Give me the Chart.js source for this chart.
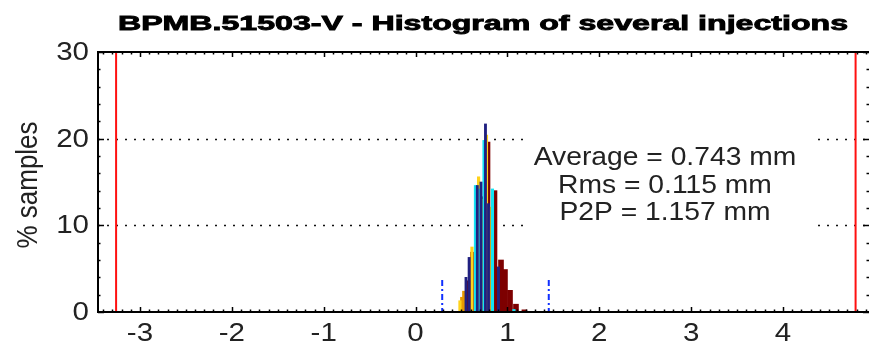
<!DOCTYPE html>
<html><head><meta charset="utf-8">
<script src="https://cdn.jsdelivr.net/npm/chart.js@4.4.0/dist/chart.umd.min.js"></script>
<style>html,body{margin:0;padding:0;background:#fff;overflow:hidden}</style>
</head><body>
<canvas id="c" width="869" height="344"></canvas>
<script>
// ---- text / ticks ----
const titleText = 'BPMB.51503-V - Histogram of several injections';
const yLabel = '% samples';
const xTicks = [-3, -2, -1, 0, 1, 2, 3, 4];
const yTicks = [0, 10, 20, 30];
const xRange = [-3.457, 4.936];
const yRange = [0, 30];
const statLines = ['Average = 0.743 mm', 'Rms = 0.115 mm', 'P2P = 1.157 mm'];
const redLimits = [-3.26, 4.79];
const minMaxMarks = [0.29, 1.45];
const minMaxMarkHeight = 3.7;

// ---- histogram series (bin centre [mm], % samples) ----
const navyX   = [0.549, 0.583, 0.672, 0.712, 0.761, 0.794, 0.902];
const navyY   = [4.0, 6.3, 14.6, 15.0, 21.7, 12.5, 5.2];
const cyanX   = [0.652, 0.700, 0.745, 0.837, 1.071];
const cyanY   = [14.6, 14.2, 19.8, 14.2, 0.3];
const yellowX = [0.483, 0.614, 0.686, 0.772];
const yellowY = [1.3, 7.5, 15.6, 20.4];
const orangeX = [0.505, 0.527, 0.728, 0.810, 0.822];
const orangeY = [1.7, 2.4, 13.0, 12.1, 11.8];
const maroonX = [0.576, 0.625, 0.674, 0.723, 0.783, 0.830, 0.859, 0.930, 0.973, 1.028, 1.093, 1.185];
const maroonY = [3.6, 6.9, 13.0, 13.3, 19.6, 11.0, 14.0, 6.0, 4.9, 2.5, 0.9, 0.25];

const pts = (xs, ys) => xs.map((v, i) => ({x: v, y: ys[i]}));

function stext(ctx, s, x, y, sx, align, stroke) {
  ctx.save(); ctx.translate(x, y); ctx.scale(sx, 1);
  ctx.textAlign = align;
  if (stroke) { ctx.lineWidth = stroke; ctx.strokeStyle = ctx.fillStyle; ctx.strokeText(s, 0, 0); }
  ctx.fillText(s, 0, 0); ctx.restore();
}

const matlabLook = {
  id: 'matlabLook',
  beforeDatasetsDraw(chart) {
    const {ctx, chartArea: a, scales: {y}} = chart;
    ctx.save();
    ctx.strokeStyle = '#111'; ctx.lineWidth = 1.5; ctx.setLineDash([2, 7]);
    yTicks.forEach(v => {
      if (v <= yRange[0] || v >= yRange[1]) return;
      const py = Math.round(y.getPixelForValue(v)) + 0.5;
      ctx.beginPath(); ctx.moveTo(a.left, py); ctx.lineTo(a.right, py); ctx.stroke();
    });
    ctx.restore();
  },
  afterDatasetsDraw(chart) {
    const {ctx, chartArea: a, scales: {x, y}} = chart;
    ctx.save();
    // red limit lines
    ctx.strokeStyle = '#ff1010'; ctx.lineWidth = 2;
    redLimits.forEach(v => {
      const px = x.getPixelForValue(v);
      ctx.beginPath(); ctx.moveTo(px, a.top); ctx.lineTo(px, a.bottom); ctx.stroke();
    });
    // blue dash-dot min/max marks
    ctx.strokeStyle = '#1030ff'; ctx.lineWidth = 2; ctx.setLineDash([6, 3, 2, 3]);
    minMaxMarks.forEach(v => {
      const px = x.getPixelForValue(v);
      ctx.beginPath(); ctx.moveTo(px, y.getPixelForValue(minMaxMarkHeight)); ctx.lineTo(px, y.getPixelForValue(0)); ctx.stroke();
    });
    ctx.setLineDash([]);
    // statistics box
    ctx.fillStyle = '#fff';
    ctx.fillRect(526, 131, 287, 100);
    ctx.fillStyle = '#222';
    ctx.font = '25px "Liberation Sans", Arial, sans-serif';
    ctx.textBaseline = 'alphabetic';
    const base = [165, 193, 220];
    statLines.forEach((s, i) => stext(ctx, s, 665, base[i], 1.13, 'center'));
    // axes box lines
    ctx.strokeStyle = '#000'; ctx.lineWidth = 2;
    ctx.beginPath();
    ctx.moveTo(a.right + 2, a.top); ctx.lineTo(a.left, a.top); ctx.lineTo(a.left, a.bottom); ctx.lineTo(a.right + 2, a.bottom);
    ctx.stroke();
    // ticks
    ctx.lineWidth = 1.5;
    const tick = (x1, y1, x2, y2) => { ctx.beginPath(); ctx.moveTo(x1, y1); ctx.lineTo(x2, y2); ctx.stroke(); };
    for (let k = Math.ceil(xRange[0] * 10); k <= Math.floor(xRange[1] * 10); k++) {
      const v = k / 10; const px = Math.round(x.getPixelForValue(v)) + 0.5;
      const major = k % 10 === 0; const L = major ? 5 : 2.5;
      tick(px, a.bottom, px, a.bottom - L);
      tick(px, a.top, px, a.top + L);
    }
    for (let v = yRange[0]; v <= yRange[1]; v += 2) {
      const py = Math.round(y.getPixelForValue(v)) + 0.5;
      const major = v % 10 === 0; const L = major ? 6 : 2.5;
      tick(a.left, py, a.left + L, py);
      tick(a.right, py, a.right - L, py);
    }
    // tick labels
    ctx.fillStyle = '#222';
    ctx.font = '25px "Liberation Sans", Arial, sans-serif';
    ctx.textBaseline = 'alphabetic';
    xTicks.forEach(v => stext(ctx, String(v), x.getPixelForValue(v), 341, 1.18, 'center'));
    ctx.textBaseline = 'middle';
    yTicks.forEach(v => stext(ctx, String(v), 89, y.getPixelForValue(v) + 1, 1.18, 'right'));
    // y label
    ctx.save();
    ctx.translate(29, 185); ctx.rotate(-Math.PI / 2); ctx.scale(1, 1.15);
    ctx.font = '26px "Liberation Sans", Arial, sans-serif';
    ctx.textAlign = 'center'; ctx.textBaseline = 'middle';
    ctx.fillText(yLabel, 0, 0);
    ctx.restore();
    // title
    ctx.font = 'bold 21px "Liberation Sans", Arial, sans-serif';
    ctx.fillStyle = '#000'; ctx.textBaseline = 'alphabetic';
    const tw = ctx.measureText(titleText).width;
    stext(ctx, titleText, 483, 30, 730 / tw, 'center', 0.9);
    ctx.restore();
  }
};

const ds = (label, xs, ys, color, w) => ({
  label, data: pts(xs, ys), backgroundColor: color, borderWidth: 0,
  barThickness: w, grouped: false
});

new Chart(document.getElementById('c'), {
  type: 'bar',
  data: {
    datasets: [
      ds('inj 1', navyX, navyY, '#202080', 2.2),
      ds('inj 2', cyanX, cyanY, '#14e4f4', 2.5),
      ds('inj 3', yellowX, yellowY, '#ffd21a', 2.5),
      ds('inj 4', orangeX, orangeY, '#e89a00', 3),
      ds('inj 5', maroonX, maroonY, '#7d0000', 5)
    ]
  },
  options: {
    responsive: false, animation: false,
    layout: {padding: {left: 98, right: 0, top: 52, bottom: 32}},
    plugins: {legend: {display: false}, title: {display: false}, tooltip: {enabled: false}},
    scales: {
      x: {type: 'linear', min: xRange[0], max: xRange[1], display: false, offset: false},
      y: {type: 'linear', min: yRange[0], max: yRange[1], display: false}
    }
  },
  plugins: [matlabLook]
});
</script>
</body></html>
